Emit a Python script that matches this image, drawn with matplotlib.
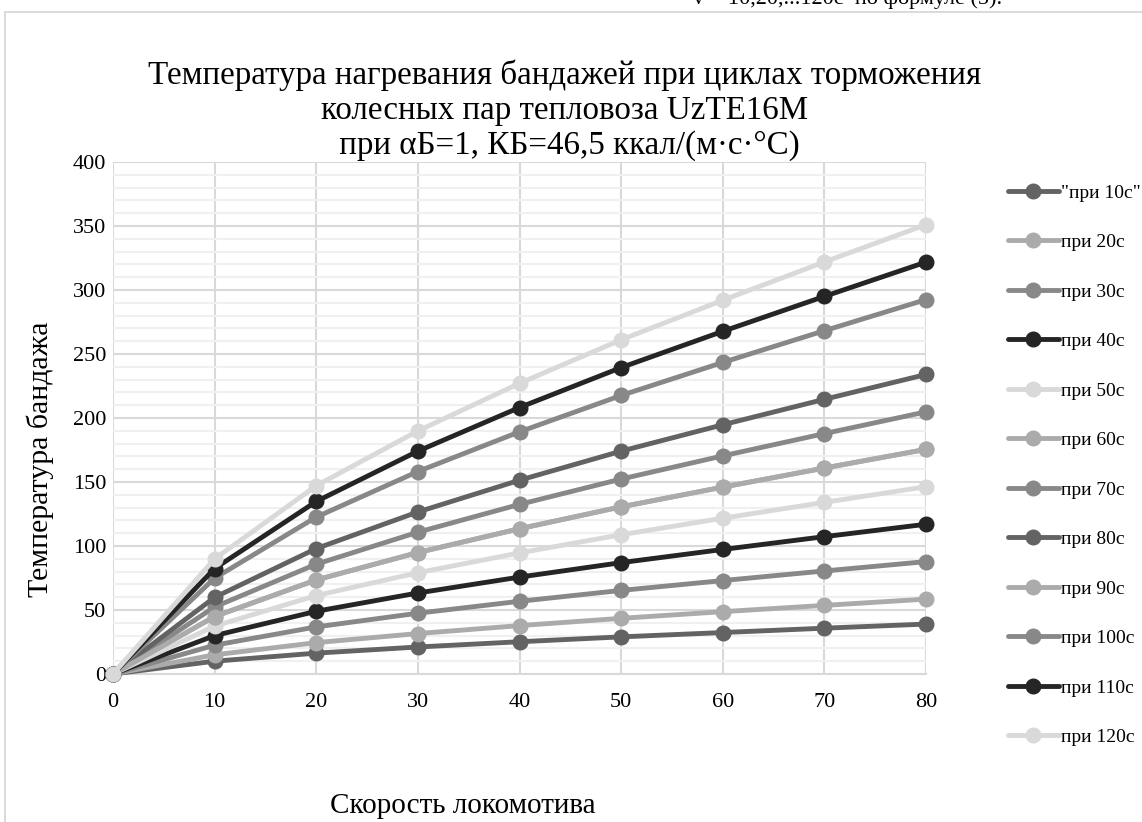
import matplotlib
matplotlib.use("Agg")
import matplotlib.pyplot as plt
from matplotlib.patches import Rectangle
from matplotlib.ticker import MultipleLocator

plt.rcParams['font.family'] = ['Liberation Serif', 'DejaVu Serif']

# Locomotive speed (category axis)
speed = [0, 10, 20, 30, 40, 50, 60, 70, 80]

# Tyre heating temperature for each braking cycle duration
t10 = [0, 10.0, 16.3, 21.1, 25.2, 29.0, 32.4, 35.8, 39.0]
t20 = [0, 15.0, 24.5, 31.6, 37.8, 43.5, 48.7, 53.6, 58.5]
t30 = [0, 22.5, 36.8, 47.5, 56.8, 65.3, 73.0, 80.5, 87.8]
t40 = [0, 30.0, 49.0, 63.3, 75.7, 87.0, 97.3, 107.3, 117.0]
t50 = [0, 37.4, 61.3, 79.1, 94.6, 108.8, 121.7, 134.1, 146.3]
t60 = [0, 44.9, 73.5, 94.9, 113.5, 130.6, 146.0, 160.9, 175.5]
t70 = [0, 52.4, 85.8, 110.8, 132.5, 152.3, 170.4, 187.8, 204.8]
t80 = [0, 59.9, 98.0, 126.6, 151.4, 174.1, 194.7, 214.6, 234.0]
t90 = [0, 44.9, 73.5, 94.9, 113.5, 130.6, 146.0, 160.9, 175.5]
t100 = [0, 74.9, 122.6, 158.2, 189.2, 217.6, 243.4, 268.2, 292.5]
t110 = [0, 82.4, 134.8, 174.1, 208.2, 239.4, 267.7, 295.0, 321.8]
t120 = [0, 89.9, 147.1, 189.9, 227.1, 261.1, 292.0, 321.9, 351.0]

series = [t10, t20, t30, t40, t50, t60, t70, t80, t90, t100, t110, t120]
labels = ['"при 10с"', 'при 20с', 'при 30с', 'при 40с', 'при 50с', 'при 60с',
          'при 70с', 'при 80с', 'при 90с', 'при 100с', 'при 110с', 'при 120с']

DARK, LIGHT, MID, BLACK, PALE = '#636363', '#ababab', '#888888', '#252525', '#d9d9d9'
colors = [DARK, LIGHT, MID, BLACK, PALE, LIGHT, MID, DARK, LIGHT, MID, BLACK, PALE]

W, H = 1142, 822
fig = plt.figure(figsize=(W / 100, H / 100), dpi=100)

# chart frame
fig.add_artist(Rectangle((5 / W, -0.1), 1.2, 1 - 12 / H + 0.1, transform=fig.transFigure,
                         fill=False, edgecolor='#d4d4d4', linewidth=1.2))

# clipped line of surrounding document text
fig.text(693 / W, 1 - 4 / H, 'v = 10,20,...120c  по формуле (5).', fontsize=16,
         ha='left', va='baseline', color='black')

ax = fig.add_axes([113 / W, 1 - 674 / H, (926 - 113) / W, (674 - 162) / H])

for vals, lab, col in zip(series, labels, colors):
    ax.plot(speed, vals, color=col, linewidth=3.5, marker='o', markersize=10.5,
            label=lab, solid_capstyle='round', clip_on=False, zorder=3)

ax.set_xlim(0, 80)
ax.set_ylim(0, 400)
ax.set_xticks(speed)
ax.yaxis.set_major_locator(MultipleLocator(50))
ax.yaxis.set_minor_locator(MultipleLocator(10))
ax.grid(which='major', axis='both', color='#d9d9d9', linewidth=1.5, zorder=0)
ax.grid(which='minor', axis='y', color='#f0f0f0', linewidth=1.5, zorder=0)
ax.set_axisbelow(True)
for s in ['top', 'right', 'left']:
    ax.spines[s].set_visible(False)
ax.spines['bottom'].set_color('#d9d9d9')
ax.spines['bottom'].set_linewidth(1.5)
ax.tick_params(axis='both', which='both', length=0, labelsize=16, colors='black')
ax.tick_params(axis='y', pad=5)
ax.tick_params(axis='x', pad=14)

fig.text(565 / W, 1 - 110 / H,
         'Температура нагревания бандажей при циклах торможения\n'
         'колесных пар тепловоза UzTE16M\n'
         ' при αБ=1, КБ=46,5 ккал/(м·с·°С)',
         fontsize=23.8, ha='center', va='center', linespacing=1.18)

fig.text(40 / W, 1 - 459 / H, 'Температура бандажа', fontsize=21.5, rotation=90,
         ha='center', va='center')
fig.text(463 / W, 1 - 806 / H, 'Скорость локомотива', fontsize=21,
         ha='center', va='center')

leg = ax.legend(loc='upper left', bbox_to_anchor=(1008 / W, 1 - 184 / H),
                bbox_transform=fig.transFigure, frameon=False, fontsize=14,
                handlelength=2.6, handletextpad=0.15, labelspacing=1.64,
                borderaxespad=0, borderpad=0)

fig.savefig('out.png', dpi=100)
